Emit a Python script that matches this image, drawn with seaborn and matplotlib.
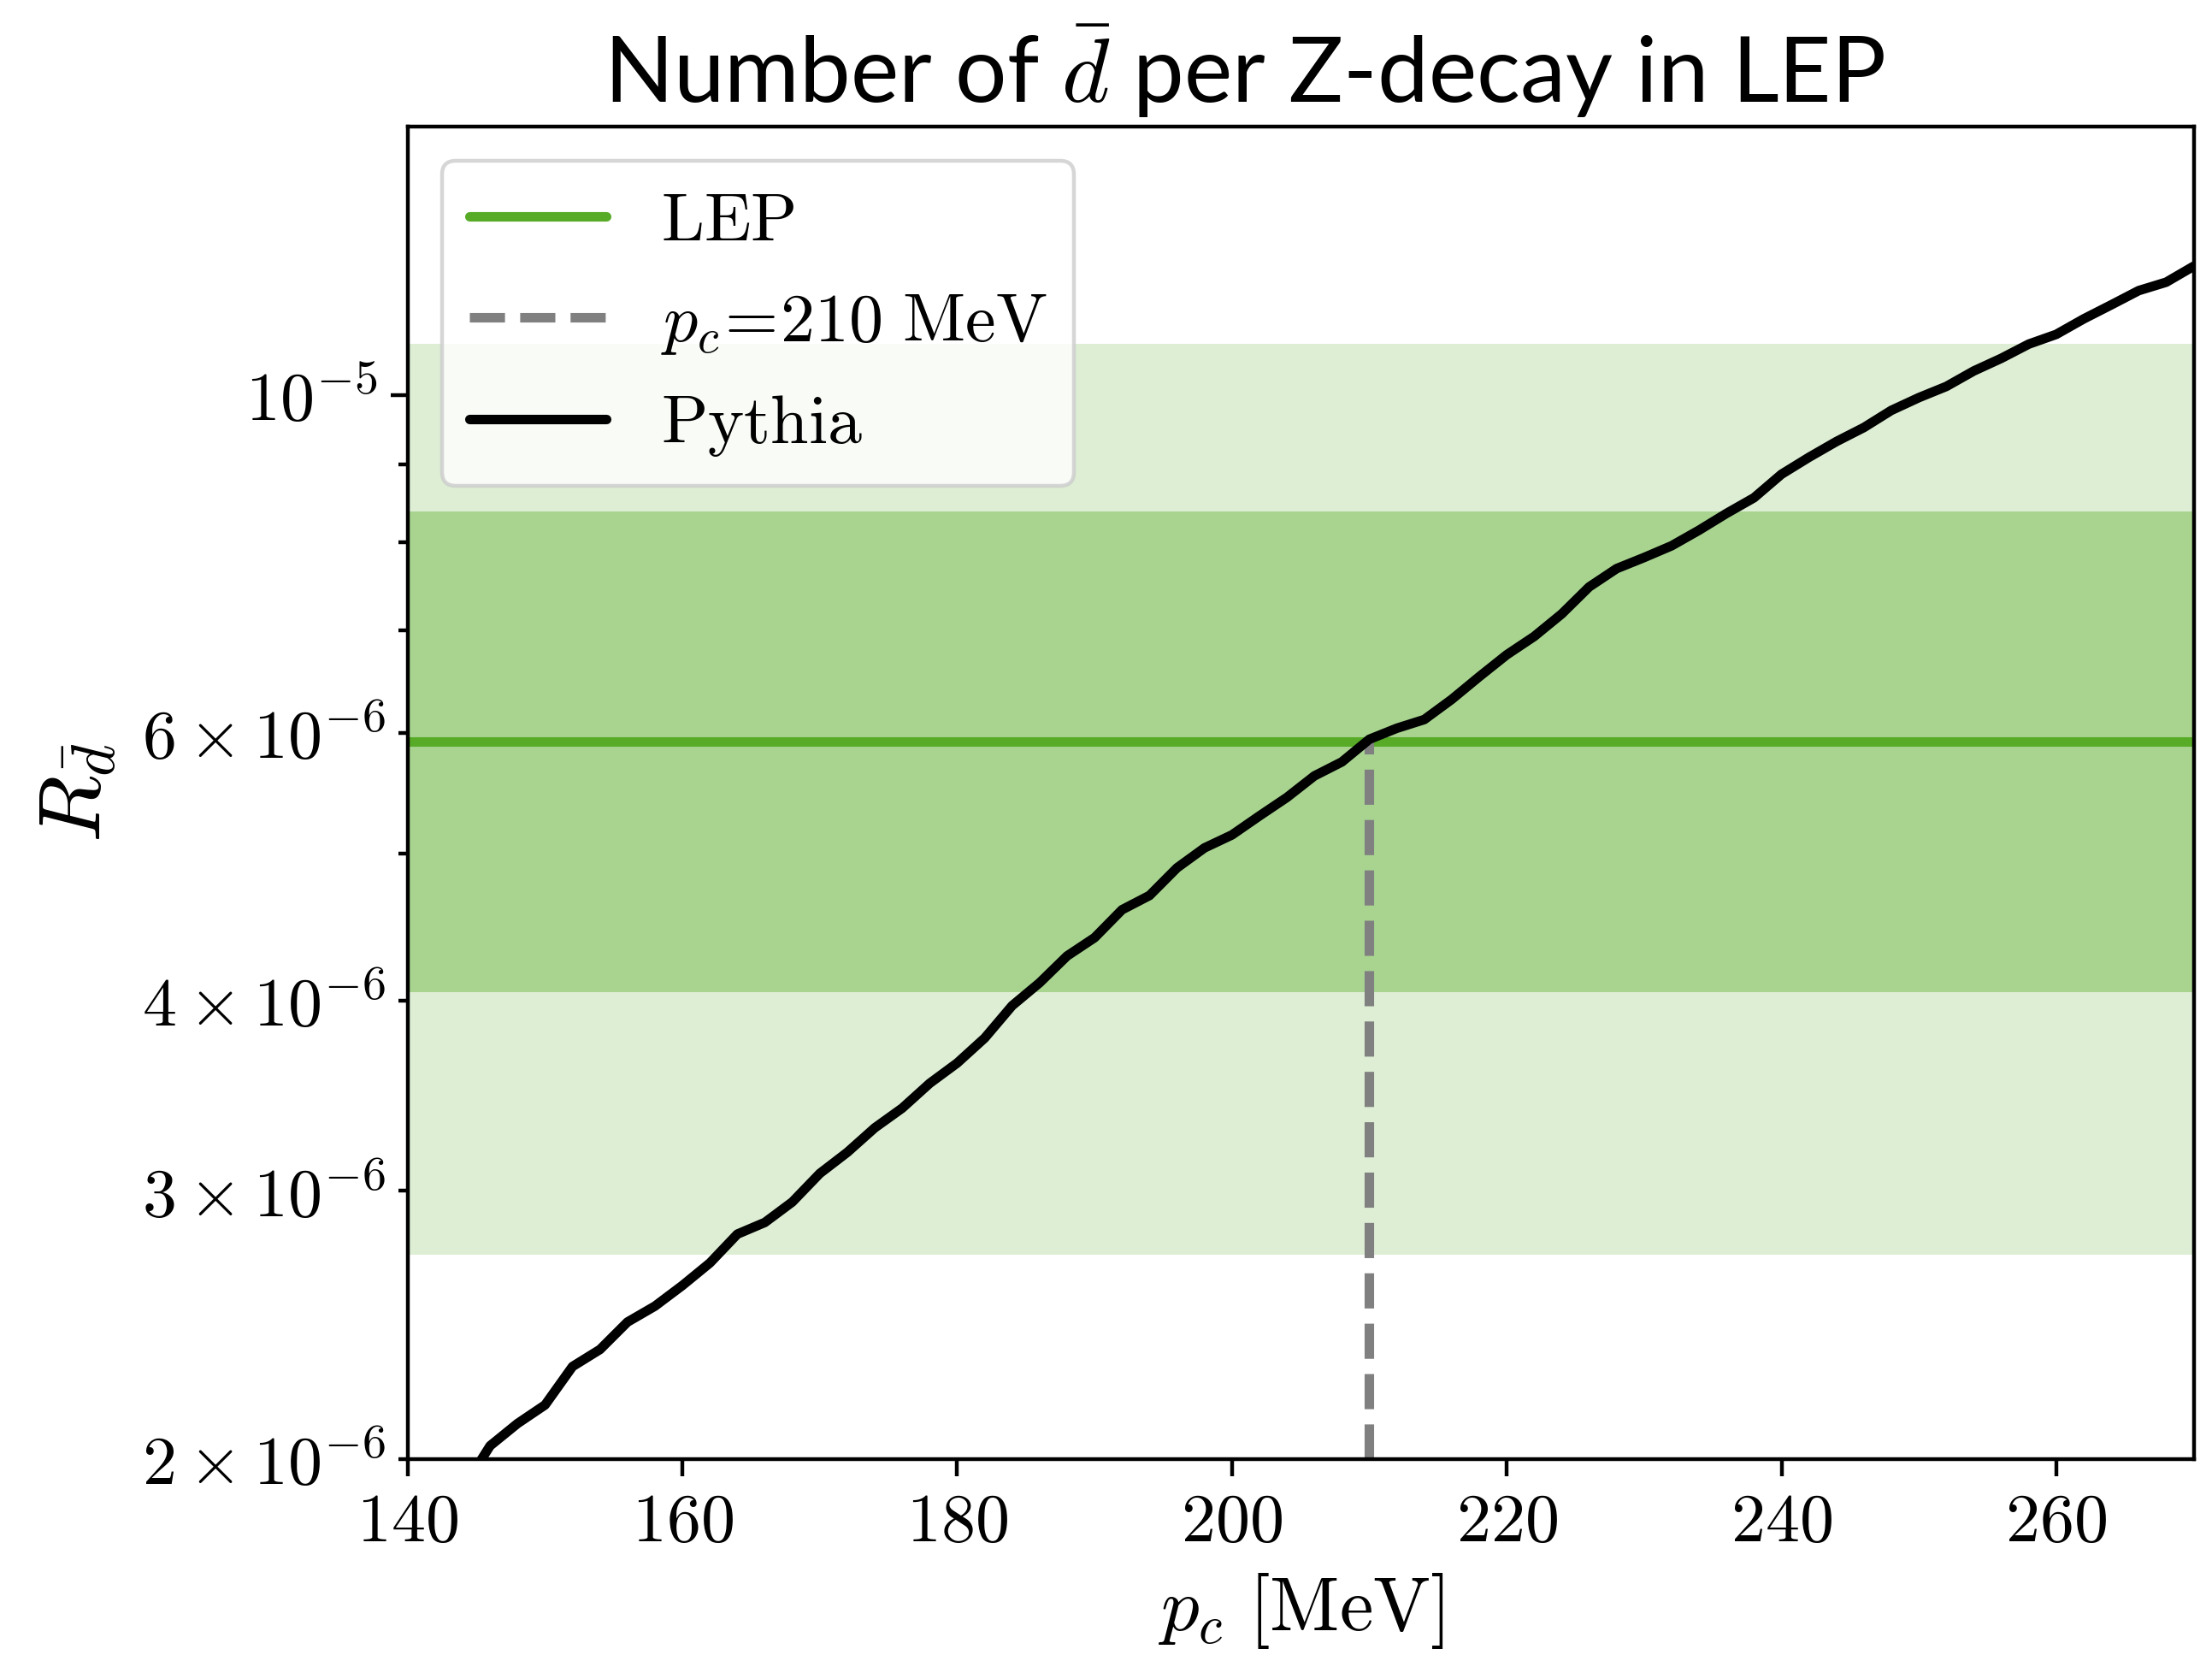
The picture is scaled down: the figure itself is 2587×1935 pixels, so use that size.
import numpy as np
import pandas as pd
import matplotlib
matplotlib.use("Agg")
import matplotlib.pyplot as plt
import seaborn as sns
from matplotlib.ticker import FixedLocator, FixedFormatter

# ---------------- data ----------------
pc_mev = [144, 146, 148, 150, 152, 154, 156, 158, 160, 162, 164, 166, 168, 170,
          172, 174, 176, 178, 180, 182, 184, 186, 188, 190, 192, 194, 196, 198,
          200, 202, 204, 206, 208, 210, 212, 214, 216, 218, 220, 222, 224, 226,
          228, 230, 232, 234, 236, 238, 240, 242, 244, 246, 248, 250, 252, 254,
          256, 258, 260, 262, 264, 266, 268, 270]
pythia_R = [1.91e-6, 2.04e-6, 2.11e-6, 2.17e-6, 2.30e-6, 2.36e-6, 2.46e-6, 2.52e-6,
            2.60e-6, 2.69e-6, 2.81e-6, 2.86e-6, 2.95e-6, 3.08e-6, 3.18e-6, 3.30e-6,
            3.40e-6, 3.53e-6, 3.64e-6, 3.78e-6, 3.97e-6, 4.11e-6, 4.28e-6, 4.40e-6,
            4.59e-6, 4.69e-6, 4.89e-6, 5.04e-6, 5.14e-6, 5.29e-6, 5.44e-6, 5.62e-6,
            5.74e-6, 5.94e-6, 6.04e-6, 6.12e-6, 6.31e-6, 6.53e-6, 6.75e-6, 6.94e-6,
            7.18e-6, 7.48e-6, 7.69e-6, 7.82e-6, 7.96e-6, 8.15e-6, 8.36e-6, 8.56e-6,
            8.87e-6, 9.10e-6, 9.32e-6, 9.52e-6, 9.77e-6, 9.96e-6, 1.013e-5, 1.037e-5,
            1.057e-5, 1.080e-5, 1.096e-5, 1.122e-5, 1.146e-5, 1.171e-5, 1.186e-5,
            1.215e-5]

lep_central = 5.92e-6
lep_1sigma = (4.05e-6, 8.38e-6)
lep_2sigma = (2.725e-6, 1.08e-5)
pc_chosen = 210

x_range = (140, 270)
y_range = (2e-6, 1.5e-5)

x_ticks = [140, 160, 180, 200, 220, 240, 260]
x_tick_labels = [r"$140$", r"$160$", r"$180$", r"$200$", r"$220$", r"$240$", r"$260$"]
y_major_ticks = [1e-5]
y_major_labels = [r"$10^{-5}$"]
y_minor_ticks = [2e-6, 3e-6, 4e-6, 5e-6, 6e-6, 7e-6, 8e-6, 9e-6]
y_minor_labels = [r"$2\times10^{-6}$", r"$3\times10^{-6}$", r"$4\times10^{-6}$", "",
                  r"$6\times10^{-6}$", "", "", ""]

title_text = r"Number of $\bar{d}$ per Z-decay in LEP"
legend_labels = [r"$\mathrm{LEP}$", r"$p_c\!=\!210\ \mathrm{MeV}$", r"$\mathrm{Pythia}$"]

# ---------------- style ----------------
sns.set_style("ticks", {"axes.edgecolor": "black", "xtick.color": "black",
                        "ytick.color": "black", "text.color": "black",
                        "axes.labelcolor": "black"})
plt.rcParams["mathtext.fontset"] = "cm"
plt.rcParams["font.family"] = ["DejaVu Sans"]
plt.rcParams["axes.linewidth"] = 1.0
plt.rcParams["text.color"] = "black"
plt.rcParams["axes.labelcolor"] = "black"

green = "#57ab27"
band_dark = "#a8d490"
band_light = "#ddeed4"

fig = plt.figure(figsize=(2587 / 320, 1935 / 320), dpi=320)
ax = fig.add_axes([0.1843, 0.1185, 0.8074, 0.8048])

# bands
ax.axhspan(lep_2sigma[0], lep_2sigma[1], color=band_light, lw=0, zorder=0)
ax.axhspan(lep_1sigma[0], lep_1sigma[1], color=band_dark, lw=0, zorder=0.5)

# LEP central line
ax.axhline(lep_central, color=green, lw=2.5, label=legend_labels[0], zorder=2)

# chosen p_c dashed line up to the Pythia curve
pythia_at_pc = float(np.interp(pc_chosen, pc_mev, pythia_R))
ax.vlines(pc_chosen, y_range[0], pythia_at_pc, colors="gray", linestyles="--",
          lw=2.5, label=legend_labels[1], zorder=2)

# Pythia curve
df = pd.DataFrame({"pc": pc_mev, "R": pythia_R})
sns.lineplot(data=df, x="pc", y="R", color="black", lw=2.5,
             label=legend_labels[2], ax=ax, zorder=3)

ax.set_yscale("log")
ax.set_xlim(*x_range)
ax.set_ylim(*y_range)

ax.set_xticks(x_ticks)
ax.set_xticklabels(x_tick_labels)
ax.yaxis.set_major_locator(FixedLocator(y_major_ticks))
ax.yaxis.set_major_formatter(FixedFormatter(y_major_labels))
ax.yaxis.set_minor_locator(FixedLocator(y_minor_ticks))
ax.yaxis.set_minor_formatter(FixedFormatter(y_minor_labels))

ax.tick_params(axis="both", which="both", labelsize=18, direction="out",
               width=1.0, colors="black")
ax.tick_params(axis="both", which="major", length=4.5)
ax.tick_params(axis="y", which="minor", length=2.5)
ax.tick_params(axis="x", which="minor", length=0)

ax.set_xlabel(r"$p_c\ [\mathrm{MeV}]$", fontsize=20, labelpad=4, color="black")
ax.set_ylabel(r"$R_{\bar{d}}$", fontsize=23, labelpad=6, color="black")

for s in ax.spines.values():
    s.set_visible(True)
    s.set_color("black")
    s.set_linewidth(1.0)

fig.text(0.5625, 0.957, title_text, ha="center", va="center", fontsize=24,
         family=["Lato", "DejaVu Sans"], color="black")

leg = ax.legend(loc="upper left", fontsize=18, frameon=True, fancybox=True,
                framealpha=0.8, edgecolor="#cccccc", handlelength=2.0)
leg.get_frame().set_linewidth(1.0)
for t in leg.get_texts():
    t.set_color("black")

fig.savefig("out.png", dpi=320)
